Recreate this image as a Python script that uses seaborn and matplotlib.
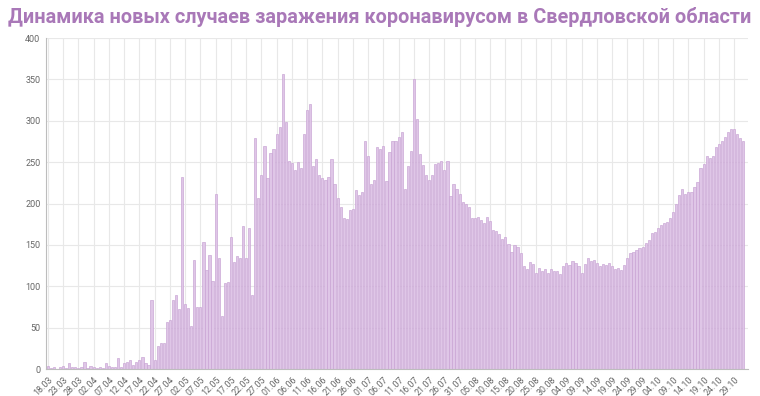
import matplotlib
matplotlib.use("Agg")
import matplotlib.pyplot as plt
import seaborn as sns
import pandas as pd

# daily new cases, 18.03 .. 01.11
cases = [
    4, 1, 3, 0, 2, 4, 1, 7, 2, 3, 1, 2, 8, 1, 4, 2, 1, 3, 1, 7,
    4, 2, 2, 13, 3, 7, 8, 11, 5, 8, 11, 14, 7, 5,
    84, 11, 28, 32, 32, 57, 59, 84, 89, 73, 232, 79, 74, 52, 132, 75, 75,
    154, 120, 138, 107, 211, 134, 64, 104, 105, 159, 129, 137, 134, 173,
    134, 171, 89, 279,
    207, 235, 269, 231, 261, 266, 284, 292, 357, 299, 251, 249, 240, 250,
    243, 284, 313, 320, 245, 254, 234, 231, 228, 232, 254, 224, 207, 196,
    183, 181, 192, 193, 216, 210, 214,
    276, 257, 224, 228, 268, 266, 270, 227, 262, 276, 275, 280, 286, 217,
    245, 263, 350,
    302, 260, 246, 234, 228, 234, 248, 249, 251, 241, 252,
    209, 224, 217, 211, 202, 200, 196, 182,
    182, 184, 180, 177, 184, 179, 168, 167, 163, 157, 159, 151, 142, 150,
    148, 140, 124, 121, 129, 127, 116, 122, 119, 121, 116, 121, 119, 118,
    115, 124, 128, 126, 131, 128, 124,
    116, 127, 134, 130, 132, 128, 124, 127, 126, 128, 124, 121, 122, 120,
    126, 134, 140, 142, 144, 146, 148, 152, 156, 164, 166, 171, 174, 177,
    178, 182, 190, 200, 210, 218, 211,
    214, 214, 220, 226, 243, 248, 258, 255, 258, 268, 272, 275, 281, 286,
    290, 290, 284, 279, 275,
]
dates = list(pd.date_range("2020-03-18", periods=len(cases)).strftime("%d.%m"))
y_ticks = [0, 50, 100, 150, 200, 250, 300, 350, 400]

title = "Динамика новых случаев заражения коронавирусом в Свердловской области"

sns.set_style("white")
plt.rcParams["font.family"] = ["Roboto", "DejaVu Sans"]

df = pd.DataFrame({"date": dates, "cases": cases})

fig = plt.figure(figsize=(7.6, 3.96), dpi=100)
ax = fig.add_axes([0.061, 0.068, 0.923, 0.836])

sns.barplot(data=df, x="date", y="cases", ax=ax, color="#dfc6e7",
            edgecolor="#c7a1d3", linewidth=0.45, width=0.72, saturation=1)

ax.set_xlim(-0.5, len(cases) + 0.5)
ax.set_ylim(0, 400)
ax.set_yticks(y_ticks)
ax.set_yticklabels([str(v) for v in y_ticks], fontsize=6.5, color="#666666")

tick_pos = list(range(0, len(cases), 5))
ax.set_xticks(tick_pos)
ax.set_xticklabels([dates[i] for i in tick_pos], rotation=45, ha="right",
                   rotation_mode="anchor", fontsize=6.4, color="#666666")

ax.set_xlabel("")
ax.set_ylabel("")
ax.grid(True, color="#e8e8e8", linewidth=0.8)
ax.set_axisbelow(True)
ax.tick_params(axis="both", length=3, color="#e0e0e0", pad=1.2)
for side in ["top", "right"]:
    ax.spines[side].set_visible(False)
ax.spines["left"].set_color("#bdbdbd")
ax.spines["bottom"].set_color("#bdbdbd")

fig.text(0.5, 0.958, title, ha="center", va="center", fontsize=14.3,
         fontweight="bold", color="#a978b8")

fig.savefig("out.png", dpi=100)
